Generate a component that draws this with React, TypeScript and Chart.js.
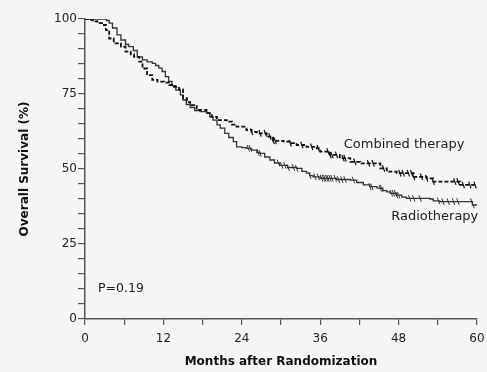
import React, { useEffect, useRef } from 'react';
import { Chart, registerables } from 'chart.js';
Chart.register(...registerables);

// Kaplan-Meier curve points (month, % surviving)
const radioMonths = [0, 2.8, 3.3, 3.7, 4.2, 4.9, 5.5, 6.2, 6.7, 7.4, 8.0, 8.8, 9.5, 10.3, 10.8, 11.3, 11.8, 12.3, 12.8, 13.3, 13.9, 14.6, 15.0, 15.5, 16.1, 16.8, 17.6, 18.6, 19.1, 19.6, 20.2, 20.7, 21.4, 22.0, 22.7, 23.2, 24.0, 24.7, 25.5, 26.3, 26.8, 27.5, 28.3, 29.0, 29.8, 31.0, 32.4, 33.2, 33.9, 34.4, 34.9, 36.0, 38.5, 40.6, 41.6, 42.6, 43.6, 44.7, 45.6, 46.2, 46.7, 47.7, 48.5, 49.2, 52.8, 53.3, 54.3, 59.3, 60];
const radioSurvival = [100, 100, 99.5, 98.6, 97, 94.7, 93, 91.5, 90.8, 89.5, 87.4, 86.4, 85.7, 85.2, 84.5, 83.6, 82.5, 80.8, 79.2, 77.8, 76.3, 74.7, 73, 71.5, 70.5, 69.5, 69.1, 68.6, 67.4, 66.3, 64.7, 63.6, 61.9, 60.5, 59.1, 57.4, 57.1, 56.9, 56.3, 55.5, 55.2, 54, 53, 52, 51.2, 50.5, 50.2, 49.2, 48.6, 47.8, 47.4, 46.9, 46.5, 46.3, 45.5, 44.7, 44.1, 43.6, 42.8, 42.4, 41.9, 41.3, 40.6, 40.2, 40, 39.4, 39.1, 38, 38];

const combinedMonths = [0, 0.6, 1.2, 1.9, 2.6, 3.2, 3.7, 4.4, 5.5, 6.2, 7.0, 7.5, 8.3, 8.8, 9.5, 10.3, 11.1, 12.1, 12.9, 13.6, 14.4, 15.0, 15.6, 16.1, 17.1, 18.6, 19.4, 20.2, 21.7, 22.5, 23.2, 24.7, 25.5, 26.3, 27.8, 28.8, 30.4, 31.4, 32.4, 33.9, 35.5, 36.0, 37.5, 39.0, 40.6, 42.1, 45.2, 46.2, 47.7, 50.3, 52.3, 53.3, 57.4, 60];
const combinedSurvival = [100, 99.7, 99.2, 98.6, 98, 96.3, 93.5, 91.9, 90.8, 89.1, 88.2, 87.4, 85.8, 83.5, 81.3, 79.7, 79.1, 78.8, 78, 77.4, 76.5, 73.6, 72.3, 71.3, 69.7, 68.6, 67.4, 66.3, 65.8, 64.8, 64.1, 63, 62.4, 61.9, 60.8, 59.4, 59.1, 58.6, 58, 57.4, 56.9, 55.8, 54.7, 53.6, 52.4, 51.9, 50.2, 49.1, 48.6, 47.4, 46.9, 45.8, 44.7, 44.7];

// Censoring times (months)
const radioCensor = [25.0, 25.3, 26.5, 26.8, 29.6, 30.1, 30.6, 31.1, 31.9, 32.4, 34.4, 35.2, 35.7, 36.2, 36.5, 36.7, 37.0, 37.2, 37.5, 37.8, 38.3, 38.8, 39.3, 39.8, 41.1, 43.6, 43.9, 45.2, 45.4, 46.9, 47.2, 47.5, 47.7, 48.0, 49.7, 50.3, 51.3, 54.1, 54.8, 55.6, 56.4, 57.1, 59.2, 59.4];
const combinedCensor = [25.5, 26.8, 27.6, 28.3, 28.8, 29.1, 31.4, 33.2, 34.7, 35.7, 37.2, 37.5, 37.8, 38.5, 39.5, 39.8, 41.3, 43.4, 44.1, 45.7, 48.2, 48.7, 49.5, 50.0, 50.3, 51.5, 52.3, 53.3, 56.6, 57.1, 57.9, 58.9, 59.7];

const xTickStep = 6;
const xLabelEvery = 12;
const yTickStep = 5;
const yLabelEvery = 25;

const seriesNames = ['Combined therapy', 'Radiotherapy'];
const pValueText = 'P=0.19';
const xTitle = 'Months after Randomization';
const yTitle = 'Overall Survival (%)';

function stepValue(months: number[], surv: number[], t: number) {
  let v = surv[0];
  for (let i = 0; i < months.length; i++) {
    if (months[i] <= t) v = surv[i];
    else break;
  }
  return v;
}

const FONT = '"DejaVu Sans", sans-serif';

export default function App() {
  const ref = useRef<HTMLCanvasElement>(null);
  useEffect(() => {
    if (!ref.current) return;
    const textPlugin = {
      id: 'texts',
      afterDraw(chart: any) {
        const ctx = chart.ctx;
        const xs = chart.scales.x;
        const ys = chart.scales.y;
        const ca = chart.chartArea;
        ctx.save();
        ctx.fillStyle = '#222';
        ctx.font = `13px ${FONT}`;
        ctx.textBaseline = 'middle';
        ctx.textAlign = 'left';
        ctx.fillText(seriesNames[0], xs.getPixelForValue(39.6), ys.getPixelForValue(58));
        ctx.textAlign = 'right';
        ctx.fillText(seriesNames[1], xs.getPixelForValue(60.2), ys.getPixelForValue(34));
        ctx.textAlign = 'left';
        ctx.font = `12.5px ${FONT}`;
        ctx.fillText(pValueText, xs.getPixelForValue(2), ys.getPixelForValue(10));
        ctx.font = `bold 12px ${FONT}`;
        ctx.fillStyle = '#111';
        ctx.textAlign = 'center';
        ctx.fillText(xTitle, (ca.left + ca.right) / 2, ca.bottom + 43);
        ctx.translate(ca.left - 60, (ca.top + ca.bottom) / 2);
        ctx.rotate(-Math.PI / 2);
        ctx.fillText(yTitle, 0, 0);
        ctx.restore();
      },
    };
    const chart = new Chart(ref.current, {
      type: 'line',
      data: {
        datasets: [
          {
            label: seriesNames[0],
            data: combinedMonths.map((m, i) => ({ x: m, y: combinedSurvival[i] })),
            borderColor: '#111',
            borderWidth: 1.8,
            borderDash: [4, 2],
            stepped: true,
            pointRadius: 0,
            fill: false,
          },
          {
            label: seriesNames[1],
            data: radioMonths.map((m, i) => ({ x: m, y: radioSurvival[i] })),
            borderColor: '#333',
            borderWidth: 1.3,
            stepped: true,
            pointRadius: 0,
            fill: false,
          },
          {
            label: 'c1',
            data: combinedCensor.map((t) => ({ x: t, y: stepValue(combinedMonths, combinedSurvival, t) })),
            showLine: false,
            pointStyle: 'line',
            pointRotation: 70,
            pointRadius: 3.5,
            borderColor: '#111',
            borderWidth: 1.2,
          },
          {
            label: 'c2',
            data: radioCensor.map((t) => ({ x: t, y: stepValue(radioMonths, radioSurvival, t) })),
            showLine: false,
            pointStyle: 'line',
            pointRotation: 70,
            pointRadius: 3.5,
            borderColor: '#333',
            borderWidth: 1,
          },
        ],
      },
      options: {
        animation: false,
        responsive: false,
        maintainAspectRatio: false,
        layout: { padding: { left: 0, right: 10, top: 19, bottom: 0 }, autoPadding: false } as any,
        plugins: { legend: { display: false }, tooltip: { enabled: false } },
        scales: {
          x: {
            type: 'linear',
            min: 0,
            max: 60,
            afterFit: (s: any) => { s.height = 53; },
            ticks: {
              stepSize: xTickStep,
              autoSkip: false,
              maxRotation: 0,
              padding: 2,
              color: '#222',
              font: { family: FONT, size: 12, lineHeight: 2.0 },
              callback: (v: any) => (Number(v) % xLabelEvery === 0 ? String(v) : ''),
            },
            grid: { drawOnChartArea: false, drawTicks: true, tickLength: 6, color: '#555', lineWidth: 1.2 },
            border: { display: true, color: '#555', width: 1.5 },
          },
          y: {
            type: 'linear',
            min: 0,
            max: 100,
            afterFit: (s: any) => { s.width = 85; },
            ticks: {
              stepSize: yTickStep,
              autoSkip: false,
              padding: 1,
              color: '#222',
              font: { family: FONT, size: 12 },
              callback: (v: any) => (Number(v) % yLabelEvery === 0 ? String(v) : ''),
            },
            grid: { drawOnChartArea: false, drawTicks: true, tickLength: 7, color: '#555', lineWidth: 1.2 },
            border: { display: true, color: '#555', width: 1.5 },
          },
        },
      },
      plugins: [textPlugin],
    } as any);
    return () => chart.destroy();
  }, []);
  return (
    <div style={{ position: 'fixed', left: 0, top: 0, width: 487, height: 372, background: '#f5f5f5' }}>
      <canvas ref={ref} width={487} height={372} style={{ display: 'block', width: 487, height: 372 }} />
    </div>
  );
}
